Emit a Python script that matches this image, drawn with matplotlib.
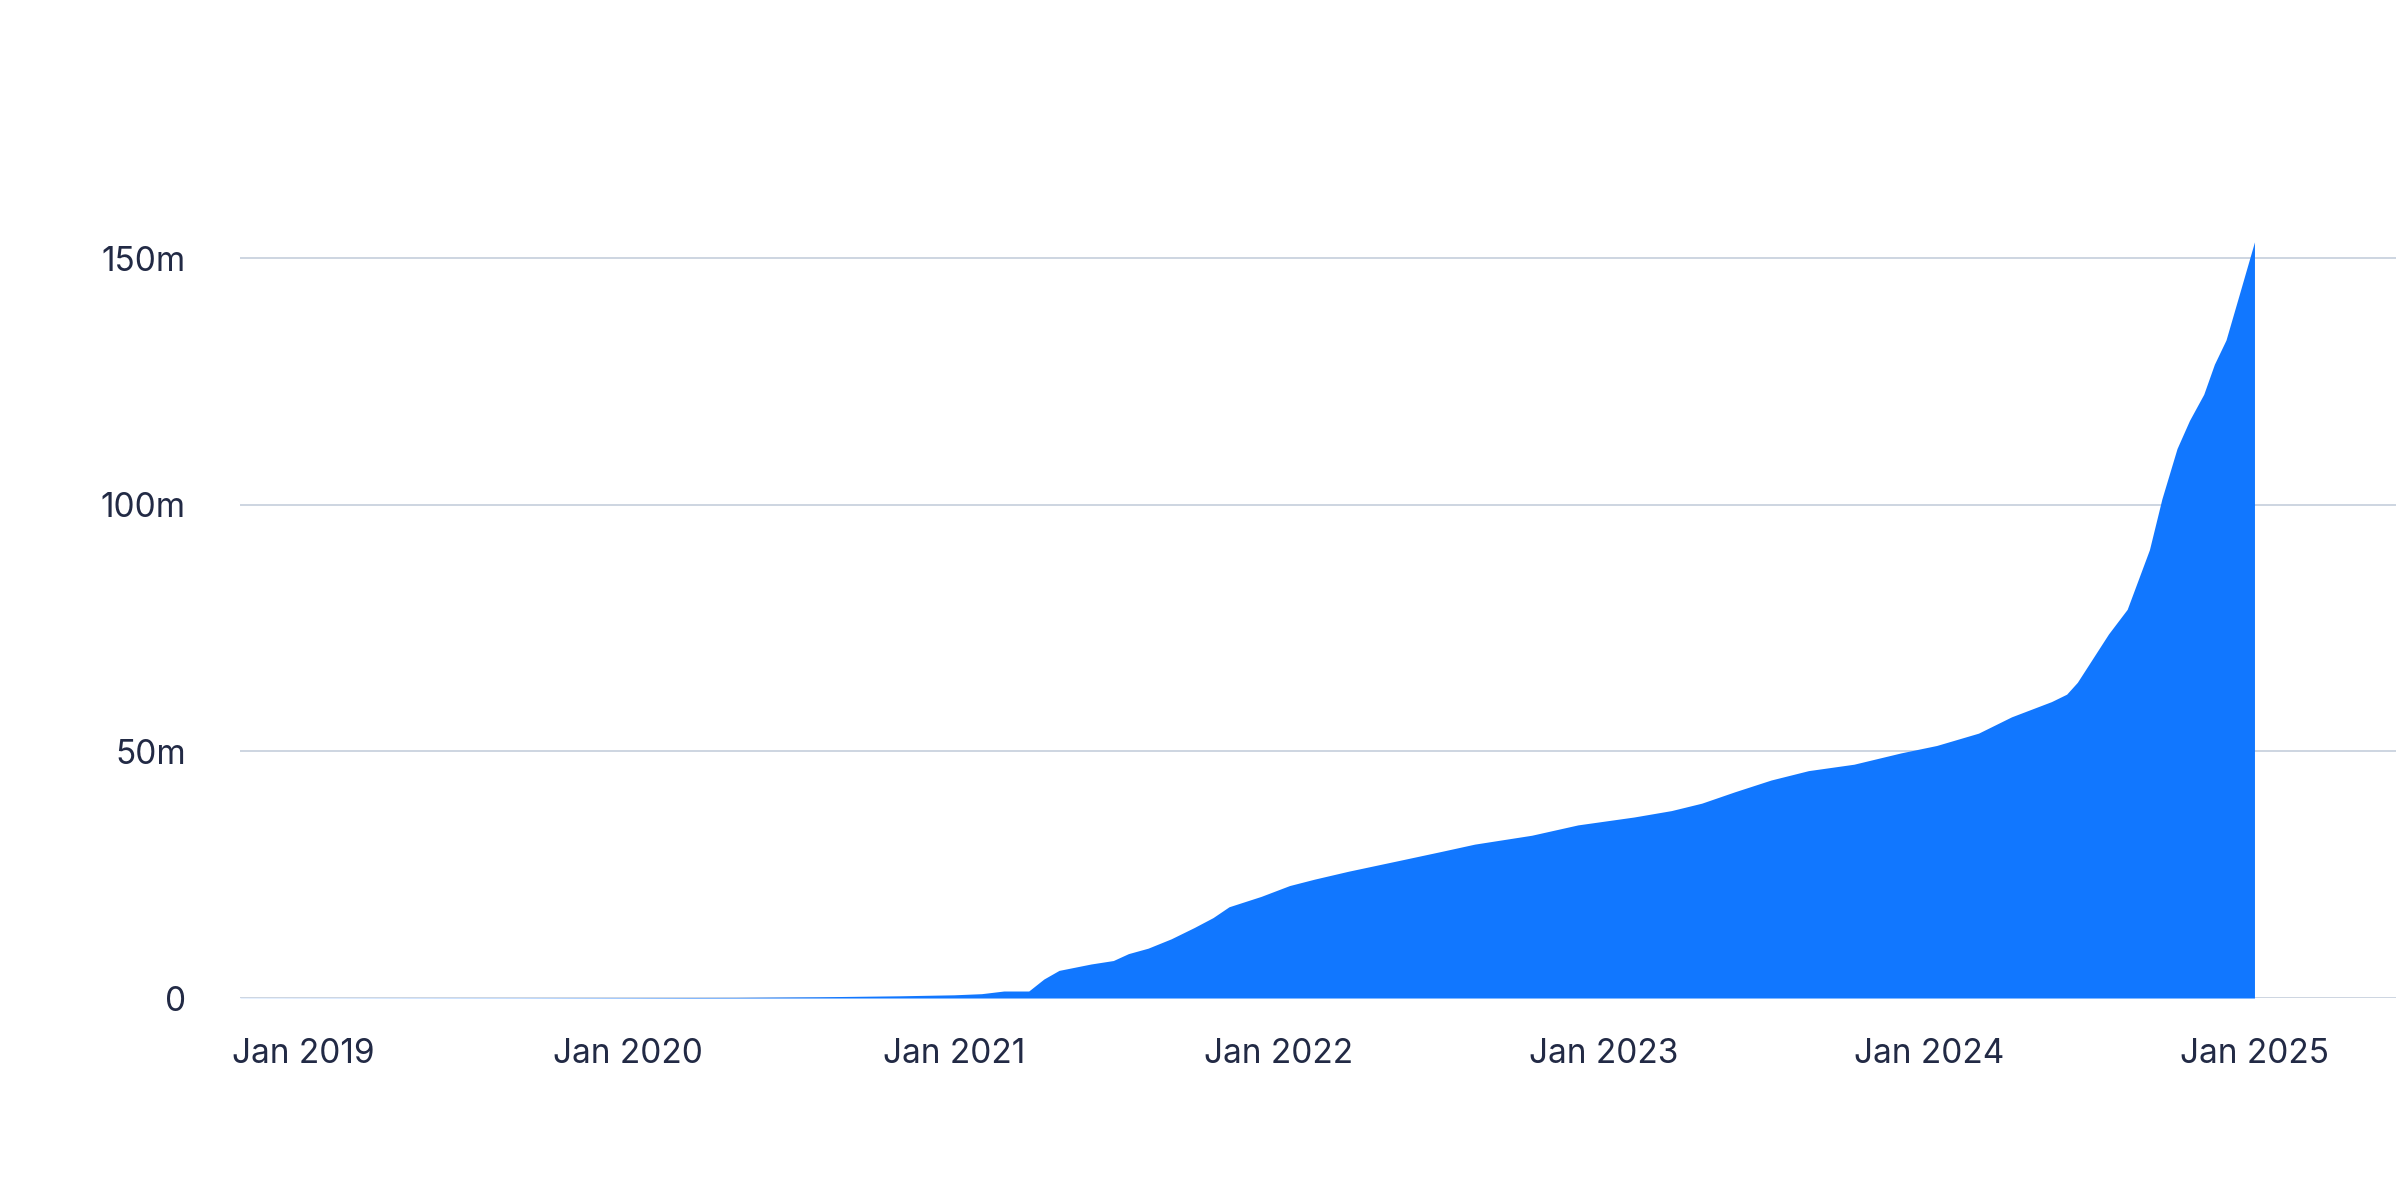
import matplotlib
matplotlib.use("Agg")
import matplotlib.pyplot as plt
import matplotlib.dates as mdates
import matplotlib.ticker as ticker
import numpy as np
import pandas as pd

# cumulative total, millions
dates = [
    "2018-10-22", "2019-03-01", "2019-09-01", "2020-01-01", "2020-05-01",
    "2020-08-01", "2020-11-01", "2021-01-01", "2021-02-01", "2021-02-26",
    "2021-03-26", "2021-04-12", "2021-04-29", "2021-06-04", "2021-06-29",
    "2021-07-16", "2021-08-07", "2021-09-02", "2021-09-28", "2021-10-19",
    "2021-11-06", "2021-12-12", "2022-01-13", "2022-02-10", "2022-03-20",
    "2022-05-19", "2022-07-02", "2022-08-09", "2022-10-12", "2022-12-03",
    "2023-02-04", "2023-03-18", "2023-04-21", "2023-05-28", "2023-07-08",
    "2023-08-19", "2023-10-09", "2023-12-01", "2024-01-10", "2024-02-26",
    "2024-04-03", "2024-05-18", "2024-06-04", "2024-06-16", "2024-07-21",
    "2024-08-11", "2024-09-05", "2024-09-19", "2024-10-06", "2024-10-20",
    "2024-11-05", "2024-11-17", "2024-11-30", "2024-12-15", "2025-01-01",
]
values = [
    0.02, 0.03, 0.05, 0.08, 0.12,
    0.25, 0.45, 0.65, 0.88, 1.42,
    1.42, 3.85, 5.6, 6.9, 7.6,
    9.0, 10.1, 12.0, 14.3, 16.3,
    18.5, 20.6, 22.8, 24.1, 25.7,
    28.0, 29.7, 31.2, 33.0, 35.1,
    36.7, 38.0, 39.5, 41.8, 44.2,
    46.1, 47.4, 49.7, 51.2, 53.7,
    57.0, 60.1, 61.6, 64.0, 73.8,
    78.8, 90.9, 101.2, 111.4, 117.1,
    122.4, 128.5, 133.4, 142.7, 153.3,
]
y_ticks = [0, 50, 100, 150]
x_tick_years = [2019, 2020, 2021, 2022, 2023, 2024, 2025]

FILL = "#1177ff"
GRID = "#c9d2de"
TEXT = "#222a45"

plt.rcParams["font.family"] = ["Inter", "DejaVu Sans"]

x = pd.to_datetime(dates)

fig = plt.figure(figsize=(23.96, 11.86), dpi=100)
ax = fig.add_axes([0.1002, 0.1585, 0.8998, 0.7486])

ax.fill_between(x, values, 0, color=FILL, linewidth=0, zorder=2)

ax.set_ylim(0, 180)
ax.set_xlim(pd.Timestamp("2018-10-22"), pd.Timestamp("2025-06-09"))

ax.set_yticks(y_ticks)
ax.yaxis.set_major_formatter(
    ticker.FuncFormatter(lambda v, _: "0" if v == 0 else f"{int(v)}m"))
ax.set_xticks([pd.Timestamp(f"{y}-01-01") for y in x_tick_years])
ax.xaxis.set_major_formatter(mdates.DateFormatter("%b %Y"))

ax.grid(axis="y", color=GRID, linewidth=1.3, zorder=1)
ax.grid(axis="x", visible=False)
for s in ax.spines.values():
    s.set_visible(False)
ax.tick_params(axis="both", length=0, labelsize=24, colors=TEXT)
ax.tick_params(axis="y", pad=39)
ax.tick_params(axis="x", pad=29)

fig.savefig("out.png", dpi=100, facecolor="white")
